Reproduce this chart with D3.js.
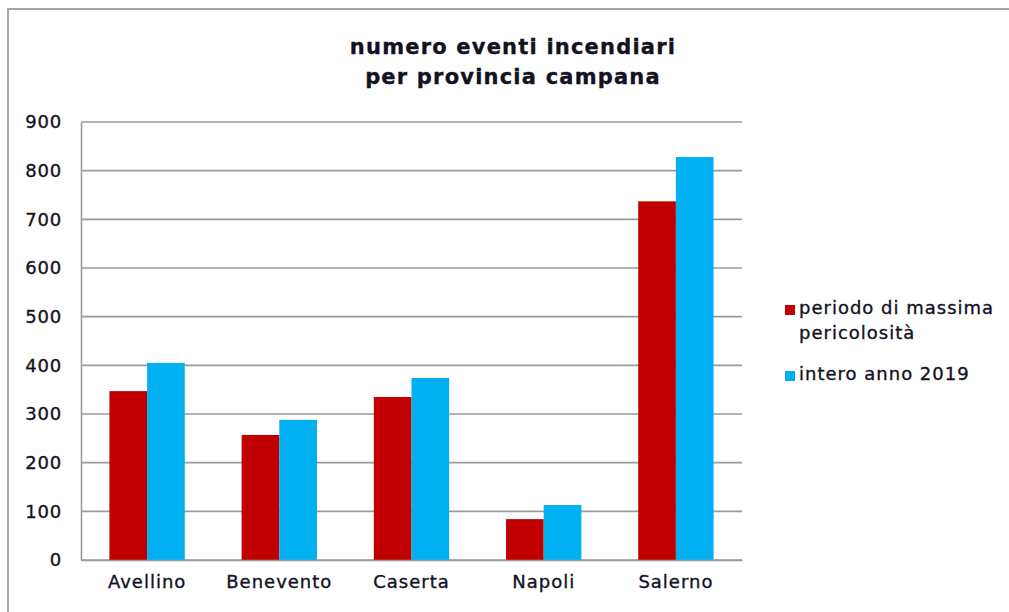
<!DOCTYPE html>
<html>
<head>
<meta charset="utf-8">
<script src="https://cdn.jsdelivr.net/npm/d3@7"></script>
<style>
  body { margin: 0; background: #fff; }
  text { font-family: "DejaVu Sans", Verdana, sans-serif; fill: #121222; stroke: #121222; stroke-width: 0.35px; }
</style>
</head>
<body>
<svg id="chart" width="1009" height="612"></svg>
<script>
const province = ["Avellino", "Benevento", "Caserta", "Napoli", "Salerno"];
const seriesNames = ["periodo di massima pericolosità", "intero anno 2019"];
const periodoMassima = [347, 257, 335, 84, 737];
const interoAnno = [405, 288, 374, 113, 828];
const yTicks = [0, 100, 200, 300, 400, 500, 600, 700, 800, 900];
const colori = ["#c00000", "#00b0f0"];

const svg = d3.select("svg#chart");

// cornice del grafico
svg.append("rect")
  .attr("x", 8).attr("y", 9)
  .attr("width", 1020).attr("height", 620)
  .attr("fill", "none")
  .attr("stroke", "#a6a6a6")
  .attr("stroke-width", 2);

// titolo
const titolo = svg.append("text")
  .attr("text-anchor", "middle")
  .style("font-size", "21px")
  .style("font-weight", "bold")
  .style("letter-spacing", "1.2px");
titolo.append("tspan").attr("x", 513).attr("y", 54).text("numero eventi incendiari");
titolo.append("tspan").attr("x", 513).attr("y", 84).text("per provincia campana");

const plotLeft = 81, plotRight = 742, plotTop = 122, plotBottom = 560;

const y = d3.scaleLinear().domain([0, 900]).range([plotBottom, plotTop]);
const x0 = d3.scaleBand().domain(province).range([plotLeft, plotRight])
  .paddingInner(0.43).paddingOuter(0.215);
const x1 = d3.scaleBand().domain([0, 1]).range([0, x0.bandwidth()]);

// griglia
svg.append("g")
  .selectAll("line")
  .data(yTicks)
  .enter()
  .append("line")
  .attr("x1", plotLeft)
  .attr("x2", plotRight)
  .attr("y1", function (d) { return y(d); })
  .attr("y2", function (d) { return y(d); })
  .attr("stroke", "#9a9a9a")
  .attr("stroke-width", 1.6);

// asse y
const yAxis = svg.append("g")
  .attr("transform", "translate(" + plotLeft + ",0)")
  .call(d3.axisLeft(y).tickValues(yTicks).tickSize(0).tickPadding(19));
yAxis.select(".domain").attr("stroke", "#9a9a9a").attr("stroke-width", 1.6);
yAxis.selectAll("text")
  .style("font-size", "18px")
  .style("letter-spacing", "0.8px")
  .attr("fill", "#121222");

// barre
const righe = province.map(function (p, i) {
  return { provincia: p, valori: [periodoMassima[i], interoAnno[i]] };
});

svg.append("g")
  .selectAll("g")
  .data(righe)
  .enter()
  .append("g")
  .attr("transform", function (d) { return "translate(" + x0(d.provincia) + ",0)"; })
  .selectAll("rect")
  .data(function (d) { return d.valori.map(function (v, k) { return { k: k, v: v }; }); })
  .enter()
  .append("rect")
  .attr("x", function (d) { return x1(d.k); })
  .attr("width", x1.bandwidth())
  .attr("y", function (d) { return y(d.v); })
  .attr("height", function (d) { return plotBottom - y(d.v); })
  .attr("fill", function (d) { return colori[d.k]; });

// asse x
const xAxis = svg.append("g")
  .attr("transform", "translate(0," + plotBottom + ")")
  .call(d3.axisBottom(x0).tickSize(0).tickPadding(15));
xAxis.select(".domain").attr("stroke", "#9a9a9a").attr("stroke-width", 1.6);
xAxis.selectAll("text")
  .style("font-size", "18px")
  .style("letter-spacing", "1px")
  .attr("fill", "#121222");

// legenda
const legenda = svg.append("g");
const voci = [
  { righe: ["periodo di massima", "pericolosità"], y: 314 },
  { righe: ["intero anno 2019"], y: 380 }
];
voci.forEach(function (v, i) {
  legenda.append("rect")
    .attr("x", 785).attr("y", v.y - 9)
    .attr("width", 10).attr("height", 10)
    .attr("fill", colori[i]);
  const t = legenda.append("text")
    .style("font-size", "18px")
    .style("letter-spacing", "1px");
  v.righe.forEach(function (r, j) {
    t.append("tspan").attr("x", 799).attr("y", v.y + j * 25).text(r);
  });
});
</script>
</body>
</html>
